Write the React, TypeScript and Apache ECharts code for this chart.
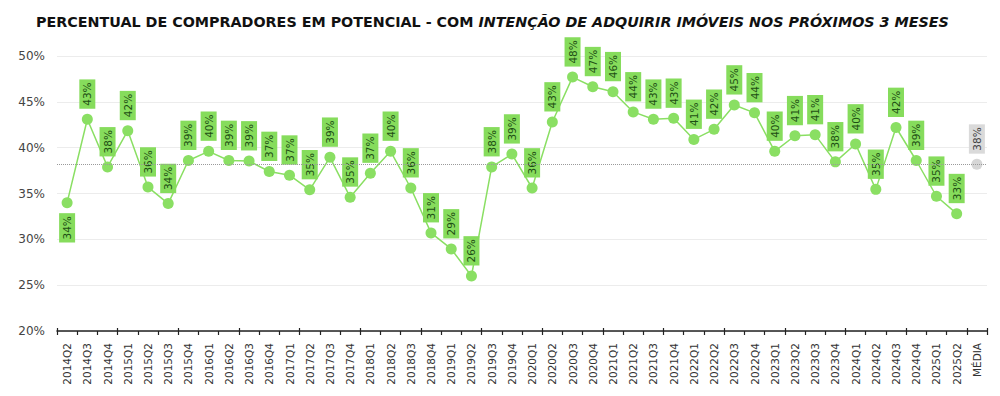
import React, { useEffect, useRef } from "react";
import * as echarts from "echarts";

const categories = [
  "2014Q2", "2014Q3", "2014Q4",
  "2015Q1", "2015Q2", "2015Q3", "2015Q4",
  "2016Q1", "2016Q2", "2016Q3", "2016Q4",
  "2017Q1", "2017Q2", "2017Q3", "2017Q4",
  "2018Q1", "2018Q2", "2018Q3", "2018Q4",
  "2019Q1", "2019Q2", "2019Q3", "2019Q4",
  "2020Q1", "2020Q2", "2020Q3", "2020Q4",
  "2021Q1", "2021Q2", "2021Q3", "2021Q4",
  "2022Q1", "2022Q2", "2022Q3", "2022Q4",
  "2023Q1", "2023Q2", "2023Q3", "2023Q4",
  "2024Q1", "2024Q2", "2024Q3", "2024Q4",
  "2025Q1", "2025Q2", "MÉDIA",
];

const quarterValues = [
  34.0, 43.1, 37.9,
  41.85, 35.7, 33.9, 38.6,
  39.6, 38.6, 38.55, 37.4,
  37.0, 35.4, 38.95, 34.6,
  37.2, 39.6, 35.6, 30.7,
  28.95, 26.0, 37.9, 39.3,
  35.6, 42.8, 47.7, 46.65,
  46.1, 43.9, 43.1, 43.2,
  40.9, 42.0, 44.65, 43.8,
  39.6, 41.3, 41.4, 38.45,
  40.4, 35.45, 42.2, 38.6,
  34.7, 32.8,
];

const averageValue = 38.2;
const yTicks = [20, 25, 30, 35, 40, 45, 50];

const GREEN = "#8ADF63";
const BOX = "#86DC5C";
const TXT = "#1E4F14";

export default function App() {
  const ref = useRef<HTMLDivElement>(null);
  useEffect(() => {
    if (!ref.current) return;
    const chart = echarts.init(ref.current, null, { renderer: "svg" });
    const lineData = quarterValues.map((v, i) =>
      i === 0
        ? {
            value: v,
            label: {
              position: "bottom",
              align: "right",
              verticalAlign: "middle",
            },
          }
        : v
    );
    const avgData = categories.map((_, i) =>
      i === categories.length - 1 ? averageValue : null
    );
    const labelBase = {
      show: true,
      rotate: 90,
      position: "top",
      align: "left",
      verticalAlign: "middle",
      distance: 5,
      fontFamily: "DejaVu Sans",
      fontSize: 10.5,
      lineHeight: 11,
      padding: [2.5, 3],
      formatter: (p: any) => Math.round(p.value) + "%",
    };
    chart.setOption({
      animation: false,
      title: {
        left: 23,
        top: 2,
        text: "{a|PERCENTUAL DE COMPRADORES EM POTENCIAL - COM }{b|INTENÇÃO DE ADQUIRIR IMÓVEIS NOS PRÓXIMOS 3 MESES}",
        textStyle: {
          rich: {
            a: {
              fontFamily: "DejaVu Sans",
              fontWeight: "bold",
              fontSize: 14.3,
              color: "#111",
            },
            b: {
              fontFamily: "DejaVu Sans",
              fontWeight: "bold",
              fontStyle: "italic",
              fontSize: 14.3,
              color: "#111",
            },
          },
        },
      },
      grid: { left: 49, right: 5, top: 48, bottom: 57 },
      xAxis: [
        {
          type: "category",
          data: categories,
          boundaryGap: true,
          axisLine: { show: true, lineStyle: { color: "#222", width: 1.5 } },
          axisTick: { show: true, length: 4, lineStyle: { color: "#222", width: 1.2 } },
          axisLabel: {
            rotate: 90,
            interval: 0,
            margin: 12,
            fontFamily: "DejaVu Sans",
            fontSize: 10.5,
            color: "#333",
          },
        },
        {
          type: "category",
          data: categories,
          position: "bottom",
          boundaryGap: true,
          axisLine: { show: false },
          axisTick: { show: true, inside: true, length: 3, lineStyle: { color: "#222", width: 1.2 } },
          axisLabel: { show: false },
        },
      ],
      yAxis: {
        type: "value",
        min: yTicks[0],
        max: yTicks[yTicks.length - 1],
        interval: 5,
        axisLine: { show: false },
        axisTick: { show: false },
        splitLine: { lineStyle: { color: "#ececec", width: 1 } },
        axisLabel: {
          formatter: "{value}%",
          fontFamily: "DejaVu Sans",
          fontSize: 12,
          color: "#444",
          margin: 12,
        },
      },
      series: [
        {
          type: "line",
          data: lineData,
          symbol: "circle",
          symbolSize: 11,
          itemStyle: { color: GREEN },
          lineStyle: { color: GREEN, width: 1.5 },
          label: { ...labelBase, color: TXT, backgroundColor: BOX },
          markLine: {
            silent: true,
            symbol: "none",
            label: { show: false },
            lineStyle: { type: "dotted", color: "#9a9a9a", width: 1 },
            data: [{ yAxis: averageValue }],
          },
          z: 3,
        },
        {
          type: "line",
          data: avgData,
          symbol: "circle",
          symbolSize: 11,
          itemStyle: { color: "#d6d6d6" },
          lineStyle: { width: 0 },
          label: { ...labelBase, color: "#444", backgroundColor: "#dadada" },
          z: 3,
        },
      ],
    });
    return () => chart.dispose();
  }, []);
  return <div ref={ref} style={{ width: 984, height: 380 }} />;
}
